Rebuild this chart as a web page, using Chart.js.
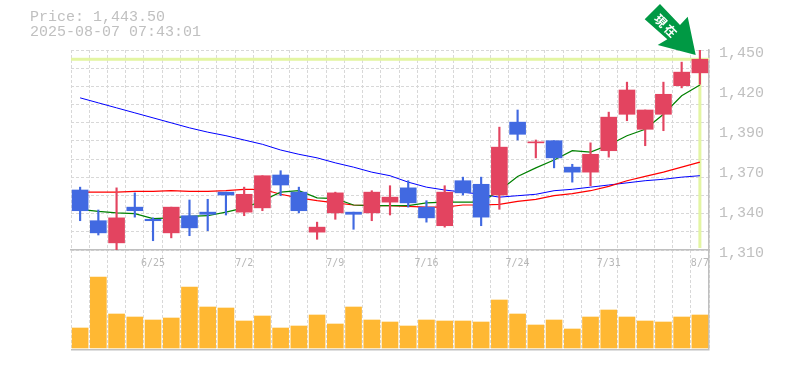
<!DOCTYPE html>
<html>
<head>
<meta charset="utf-8">
<style>
  html, body { margin: 0; padding: 0; background: #fff; }
  #wrap { position: relative; width: 785px; height: 370px; }
  #info { position: absolute; left: 30px; top: 10px; font: 15px/15px "Liberation Mono", monospace; color: #c0c0c0; white-space: pre; }
</style>
</head>
<body>
<div id="wrap">
  <div id="info">Price: 1,443.50
2025-08-07 07:43:01</div>
  <canvas id="chart" width="785" height="370"></canvas>
</div>
<script src="https://cdn.jsdelivr.net/npm/chart.js@4/dist/chart.umd.min.js"></script>
<script>
var dates = ['6/19','6/20','6/23','6/24','6/25','6/26','6/27','6/30','7/1','7/2','7/3','7/4','7/7','7/8','7/9','7/10','7/11','7/14','7/15','7/16','7/17','7/18','7/22','7/23','7/24','7/25','7/28','7/29','7/30','7/31','8/1','8/4','8/5','8/6','8/7']
var shownDates = ['6/25','7/2','7/9','7/16','7/24','7/31','8/7']
var opens = [1352,1330.5,1315,1340,1331.5,1322,1334,1336.5,1350.5,1336.5,1339.5,1362.5,1350.5,1322.5,1336,1336.5,1336,1343.5,1353.5,1340,1327,1358.5,1356,1348.5,1399.5,1385,1386.5,1368,1364.5,1379.5,1405,1394.5,1405,1425,1434]
var closes = [1337.5,1322,1332.5,1337.5,1330.5,1340,1325.5,1335,1348.5,1349,1362,1355.5,1337.5,1326,1350,1335,1350.5,1347,1343,1332.5,1350.5,1350,1333,1382,1391,1385.5,1374.5,1364.5,1377,1403,1422,1408,1419,1434.5,1443.5]
var highs = [1354,1338,1353.5,1350,1332.5,1340,1345,1345.5,1350.5,1354,1362,1365.5,1354,1329.5,1350.5,1336.5,1351.5,1355,1358.5,1344.5,1355,1361,1361,1396,1408,1387,1386.5,1370,1385,1406.5,1427.5,1408,1427.5,1441.5,1450]
var lows = [1330.5,1320.5,1309.5,1333,1316.5,1318.5,1320,1323.5,1334.5,1334,1337.5,1348,1336,1317.5,1331.5,1324.5,1330.5,1334.5,1340,1329.5,1326,1348.5,1327,1338.5,1387,1374.5,1367.5,1357.5,1355,1375,1400.5,1383,1393.5,1423.5,1426]
var maShort = [1338.5,1337,1336,1335.5,1332,1332.5,1333.5,1334,1336.5,1339.5,1344.5,1350.5,1351.5,1346.5,1346,1341.5,1341,1341,1341,1343,1343.5,1343.5,1343.5,1351.5,1361.5,1367.5,1373,1379.5,1378.5,1383.5,1390,1394.5,1405,1418,1425.5]
var maMid = [1350.5,1350.5,1350.5,1351,1351,1351.5,1351,1351,1351.5,1352.5,1352.5,1349,1346.5,1344.5,1343,1341.5,1341,1341,1340.5,1340,1340,1341.5,1341.5,1342,1344,1345.5,1348,1349.5,1351.5,1354.5,1358.5,1361.5,1364.5,1368,1371.5]
var maLong = [1416.5,1413,1409.5,1406,1402.5,1399,1395.5,1392.5,1390,1387,1384,1380,1377,1374.5,1371,1368,1364.5,1362,1357.5,1354,1352,1350.5,1349,1347,1348,1349,1351.5,1352.5,1354,1355.5,1357,1358.5,1359.5,1361,1362]
var volumes = [20,71,34,31,28,30,61,41,40,27,32,20,22,33,24,41,28,26,22,28,27,27,26,48,34,23,28,19,31,38,31,27,26,31,33]
var yLabels = ['1,450','1,420','1,390','1,370','1,340','1,310']
var labelValues = [1450,1422,1394,1366,1338,1310]
var gridValues = [1450,1437.27,1424.55,1411.82,1399.09,1386.36,1373.64,1360.91,1348.18,1335.45,1322.73,1310]
var currentPrice = 1443.5

var RED = '#e34460', BLUE = '#4169e1', GRAY = '#c0c0c0', GRID = '#d8d8d8', LIME = '#e3f5a3', FONT = '"Liberation Mono", monospace'

var bodies = opens.map(function (o, i) { return [o, closes[i]] })
var wicks = lows.map(function (l, i) { return [l, highs[i]] })
var candleColors = opens.map(function (o, i) { return closes[i] >= o ? RED : BLUE })

// lime marker lines and the green arrow are drawn behind/after the datasets
var markers = {
  id: 'markers',
  beforeDatasetsDraw: function (chart) {
    var ctx = chart.ctx, a = chart.chartArea, py = chart.scales.y.getPixelForValue(currentPrice)
    var lx = chart.scales.x.getPixelForValue(dates.length - 1)
    ctx.save()
    ctx.fillStyle = LIME
    ctx.fillRect(a.left, py - 1.5, a.width, 3)
    ctx.fillRect(lx - 1.5, py, 3, chart.scales.y.bottom - 2 - py)
    ctx.restore()
  },
  afterDraw: function (chart) {
    var ctx = chart.ctx
    ctx.save()
    ctx.fillStyle = '#009944'
    ctx.beginPath()
    ctx.moveTo(660, 4); ctx.lineTo(644.7, 19.3); ctx.lineTo(667.3, 39.3); ctx.lineTo(657.7, 45)
    ctx.lineTo(695.7, 55); ctx.lineTo(687.7, 16.7); ctx.lineTo(680, 25)
    ctx.closePath()
    ctx.fill()
    ctx.translate(666.5, 26.5)
    ctx.rotate(Math.PI / 4)
    ctx.fillStyle = '#fff'
    ctx.font = 'bold 12px "Noto Sans CJK JP"'
    ctx.letterSpacing = '2px'
    ctx.textAlign = 'center'
    ctx.textBaseline = 'middle'
    ctx.fillText('現在', 0, 0)
    ctx.restore()
  }
}

new Chart(document.getElementById('chart'), {
  data: {
    labels: dates,
    datasets: [
      { type: 'line', data: maLong, borderColor: '#0000ff', borderWidth: 1, pointRadius: 0, yAxisID: 'y', order: 5 },
      { type: 'line', data: maMid, borderColor: '#ff0000', borderWidth: 1.2, pointRadius: 0, yAxisID: 'y', order: 4 },
      { type: 'line', data: maShort, borderColor: '#008000', borderWidth: 1.2, pointRadius: 0, yAxisID: 'y', order: 3 },
      { type: 'bar', data: wicks, backgroundColor: candleColors, barThickness: 1.5, grouped: false, yAxisID: 'y', order: 2 },
      { type: 'bar', data: bodies, backgroundColor: candleColors, barThickness: 16, grouped: false, minBarLength: 1, yAxisID: 'y', order: 1 },
      { type: 'bar', data: volumes, backgroundColor: '#ffb833', barThickness: 16, grouped: false, yAxisID: 'vol', order: 6 }
    ]
  },
  options: {
    responsive: false,
    animation: false,
    layout: { padding: { left: 71, top: 50, bottom: 20, right: 0 } },
    plugins: { legend: { display: false }, tooltip: { enabled: false } },
    scales: {
      x: {
        type: 'category',
        position: { vol: 98 },
        grid: { color: GRID, offset: true, drawTicks: false, lineWidth: 1 },
        border: { display: true, color: GRAY, width: 1.5, dash: [3, 2] },
        ticks: {
          autoSkip: false, maxRotation: 0, padding: 7, color: '#b8b8b8',
          font: { family: '"DejaVu Sans Mono", monospace', size: 10 },
          callback: function (v) { var d = dates[v]; return shownDates.indexOf(d) >= 0 ? d : '' }
        }
      },
      gridY: {
        position: 'left', min: 1240, max: 1450,
        afterBuildTicks: function (s) { s.ticks = gridValues.map(function (v) { return { value: v } }) },
        afterFit: function (s) { s.width = 0 },
        ticks: { display: false },
        grid: { color: GRID, drawTicks: false },
        border: { display: false, dash: [3, 2] }
      },
      y: {
        position: 'right', stack: 'panels', stackWeight: 2, min: 1310, max: 1450,
        afterBuildTicks: function (s) { s.ticks = labelValues.map(function (v) { return { value: v } }) },
        afterFit: function (s) { s.width = 76 },
        grid: { display: false },
        border: { display: true, color: GRAY, width: 1.5 },
        ticks: {
          autoSkip: false, color: GRAY, padding: 2, labelOffset: 3,
          font: { family: FONT, size: 15 },
          callback: function (v) { return yLabels[labelValues.indexOf(v)] }
        }
      },
      vol: {
        position: 'right', stack: 'panels', stackWeight: 1, min: -2, max: 98,
        afterBuildTicks: function (s) { s.ticks = [{ value: -2 }] },
        afterFit: function (s) { s.width = 76 },
        grid: { color: GRAY, lineWidth: 1.5, drawTicks: false },
        border: { display: true, color: GRAY, width: 1.5 },
        ticks: { display: false }
      }
    }
  },
  plugins: [markers]
})
</script>
</body>
</html>
